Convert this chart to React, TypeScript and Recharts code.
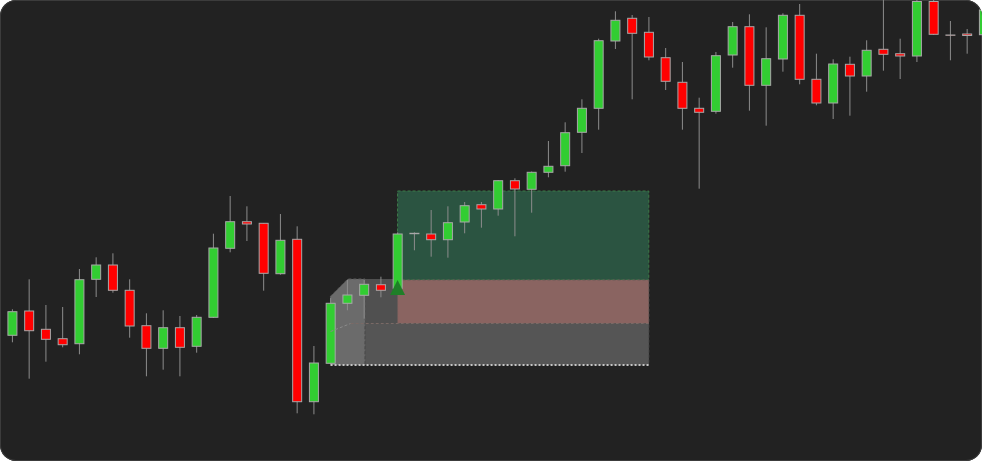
import React from 'react';
import { ComposedChart, Bar, XAxis, YAxis, ReferenceArea, ReferenceLine, Scatter } from 'recharts';

const opens = [112.57, 115.0, 113.17, 112.23, 111.73, 118.17, 119.6, 117.07, 113.53, 111.27, 113.33, 111.47, 114.37, 121.27, 123.93, 123.77, 118.73, 122.17, 105.93, 109.77, 115.77, 116.57, 117.63, 117.27, 122.77, 122.7, 122.13, 123.9, 125.63, 125.2, 128.03, 127.17, 128.87, 129.53, 132.87, 135.27, 142.0, 144.27, 142.87, 140.33, 137.87, 135.27, 134.97, 140.6, 143.43, 137.57, 140.2, 144.57, 138.17, 135.8, 139.67, 138.5, 141.17, 140.73, 140.5, 145.95, 142.6, 142.7, 142.63];
const highs = [115.17, 118.17, 115.6, 115.4, 119.2, 120.37, 120.77, 118.17, 114.77, 115.07, 114.5, 114.6, 122.73, 126.5, 125.47, 123.8, 124.7, 123.47, 111.5, 116.33, 118.1, 118.1, 118.43, 122.87, 122.87, 125.1, 125.47, 125.9, 125.9, 128.1, 128.27, 128.95, 132.0, 133.87, 136.17, 142.23, 144.97, 144.6, 144.4, 141.3, 139.9, 136.33, 140.9, 143.9, 144.67, 143.37, 144.77, 145.7, 140.73, 140.17, 140.43, 142.07, 146.6, 142.23, 146.5, 146.5, 144.0, 143.2, 145.5];
const lows = [111.87, 108.23, 109.93, 111.37, 110.67, 116.4, 116.83, 112.33, 108.47, 109.13, 108.47, 110.83, 114.3, 120.87, 122.0, 117.03, 118.63, 104.77, 104.67, 109.7, 115.07, 114.23, 116.37, 117.1, 121.07, 120.43, 120.33, 122.77, 123.33, 124.53, 122.47, 124.83, 128.37, 128.93, 130.8, 133.13, 141.2, 136.17, 140.07, 137.1, 133.13, 127.23, 134.73, 139.33, 135.03, 133.53, 138.93, 137.67, 135.57, 134.2, 134.53, 136.93, 139.03, 138.2, 139.9, 142.6, 140.07, 140.73, 142.5];
const closes = [114.93, 113.03, 112.17, 111.63, 118.13, 119.6, 117.07, 113.5, 111.27, 113.33, 111.37, 114.37, 121.3, 123.93, 123.7, 118.77, 122.07, 105.93, 109.8, 115.77, 116.6, 117.67, 117.07, 122.7, 122.73, 122.13, 123.83, 125.53, 125.2, 128.03, 127.2, 128.87, 129.47, 132.83, 135.27, 142.03, 144.07, 142.77, 140.4, 137.97, 135.27, 134.87, 140.53, 143.43, 137.57, 140.23, 144.57, 138.17, 135.8, 139.7, 138.5, 141.07, 140.67, 140.5, 145.95, 142.67, 142.58, 142.55, 145.1];

// trade setup
const entryIndex = 23;
const exitIndex = 38;
const boxStartIndex = 19;
const faceEndIndex = 21.06;
const entryPrice = 118.1;
const targetPrice = 127.0;
const stopPrice = 113.75;
const boxTop = 118.2;
const boxBottom = 109.6;
const edgeStart = 112.95;
const edgeEndIndex = 20.2;

const data = opens.map((o, i) => ({ i, o, h: highs[i], l: lows[i], c: closes[i] }));
const markers = [{ i: entryIndex, p: entryPrice }];

const Candle = (props: any) => {
  const { x, y, width, height, payload } = props;
  const { o, h, l, c } = payload;
  const top = Math.min(y, y + height);
  const hgt = Math.abs(height);
  const toY = (v: number) => top + ((h - v) / (h - l)) * hgt;
  const cx = x + width / 2;
  const up = c >= o;
  const yTop = toY(Math.max(o, c));
  const yBot = toY(Math.min(o, c));
  return (
    <g>
      <line x1={cx} x2={cx} y1={top} y2={top + hgt} stroke="#8c8c8c" strokeWidth={1} />
      <rect x={x} y={yTop} width={width} height={Math.max(yBot - yTop, 0.3)} fill={up ? '#32cd32' : '#ff0000'} stroke="#a8a8a8" strokeWidth={1} />
    </g>
  );
};

const Face = (p: any) => {
  const { x, y, width, height } = p;
  const ch = width / 2;
  return (
    <path
      d={`M${x},${y + ch} L${x + ch},${y} L${x + width},${y} L${x + width},${y + height} L${x},${y + height} Z`}
      fill="#6b6b6b"
      stroke="#5a5a5a"
      strokeDasharray="3 2"
    />
  );
};

const Triangle = (p: any) => {
  const { cx, cy } = p;
  return <path d={`M${cx},${cy} L${cx + 7.5},${cy + 15} L${cx - 7.5},${cy + 15} Z`} fill="#1f7f28" />;
};

export default function App() {
  return (
    <div
      style={{
        position: 'absolute',
        left: 0,
        top: 0,
        width: 982,
        height: 461,
        background: '#222222',
        borderRadius: 16,
        overflow: 'hidden',
        boxShadow: 'inset 0 0 0 1px #3c3c3c',
      }}
    >
      <ComposedChart width={982} height={461} data={data} margin={{ top: 0, right: 0, bottom: 0, left: 0 }}>
        <XAxis dataKey="i" type="number" domain={[-0.734, 57.893]} allowDataOverflow hide />
        <YAxis type="number" domain={[100, 146.1]} allowDataOverflow hide />
        <ReferenceArea x1={faceEndIndex} x2={exitIndex} y1={boxBottom} y2={boxTop} fill="#505050" fillOpacity={1} stroke="none" />
        <ReferenceArea x1={boxStartIndex} x2={faceEndIndex} y1={boxBottom} y2={boxTop} shape={Face} />
        <ReferenceArea x1={entryIndex} x2={exitIndex} y1={entryPrice} y2={targetPrice} fill="#2b5441" fillOpacity={1} stroke="#3d7a48" strokeDasharray="3 2" />
        <ReferenceArea x1={entryIndex} x2={exitIndex} y1={stopPrice} y2={entryPrice} fill="#8a6461" fillOpacity={1} stroke="#6a5a58" strokeDasharray="3 2" />
        <ReferenceArea x1={faceEndIndex} x2={exitIndex} y1={boxBottom} y2={stopPrice} fill="#555555" fillOpacity={1} stroke="#4a4a4a" strokeDasharray="3 2" />
        <ReferenceLine segment={[{ x: boxStartIndex, y: edgeStart }, { x: edgeEndIndex, y: stopPrice }]} stroke="#8a8a8a" strokeDasharray="3 2" />
        <ReferenceLine segment={[{ x: edgeEndIndex, y: stopPrice }, { x: exitIndex, y: stopPrice }]} stroke="#7a6a66" strokeDasharray="3 2" />
        <ReferenceLine segment={[{ x: boxStartIndex, y: boxBottom }, { x: exitIndex, y: boxBottom }]} stroke="#c4c4c4" strokeWidth={2} strokeDasharray="2 2" />
        <Bar dataKey={(d: any) => [d.l, d.h]} barSize={9} shape={Candle} isAnimationActive={false} />
        <Scatter data={markers} dataKey="p" shape={Triangle} isAnimationActive={false} />
      </ComposedChart>
    </div>
  );
}
